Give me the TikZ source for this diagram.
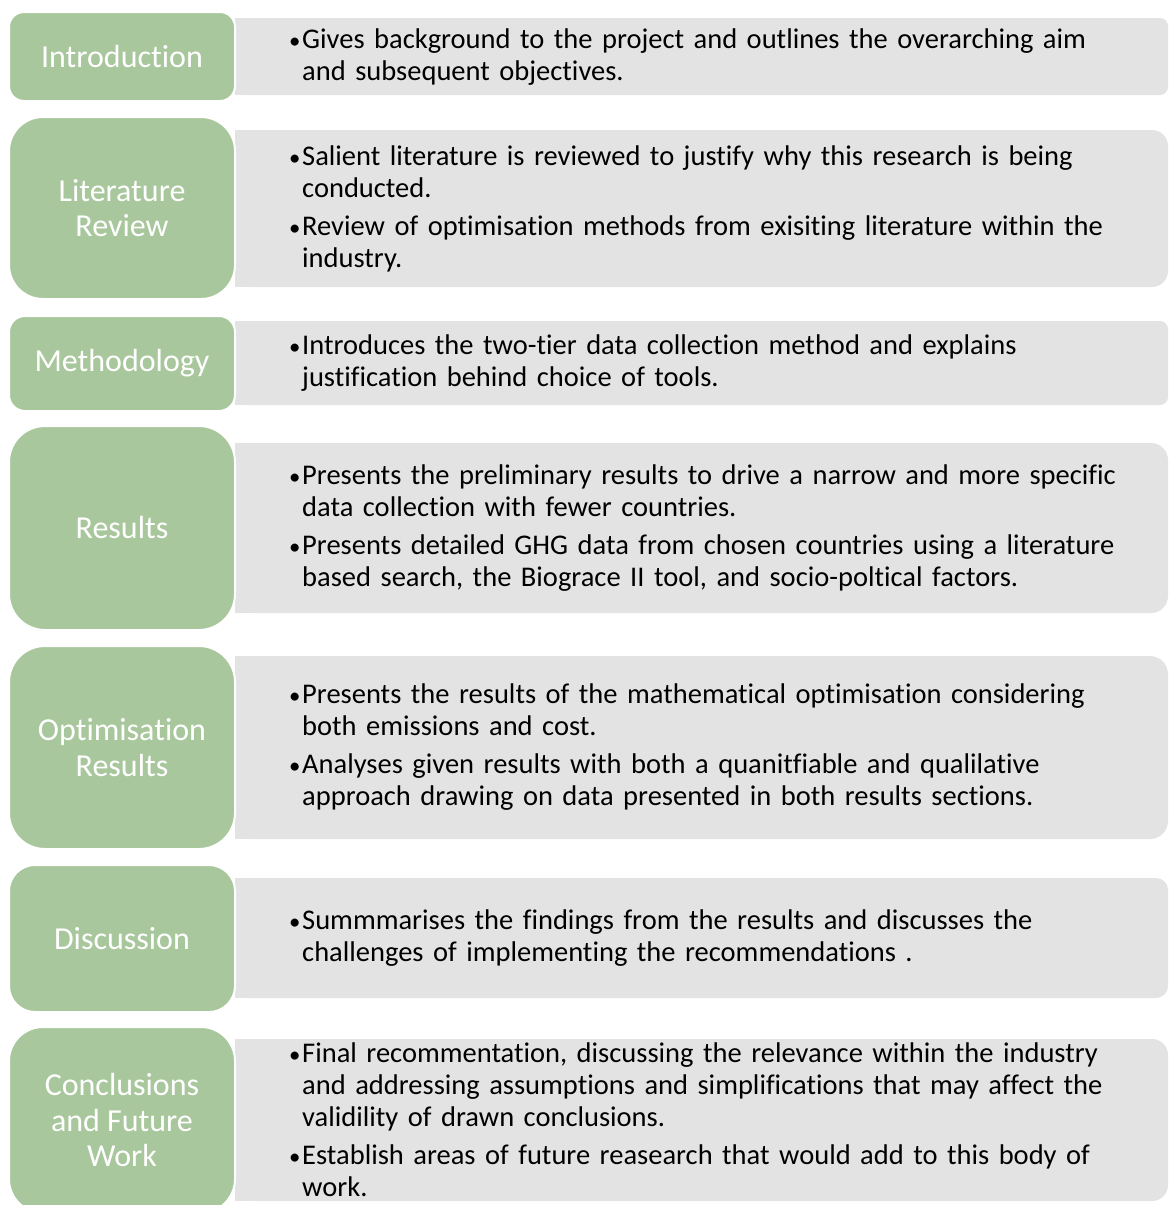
\documentclass[tikz,border=0pt]{standalone}
\usepackage{fontspec}
\setmainfont{Carlito}[Ligatures=NoCommon]
\usepackage{tikz}

\definecolor{stagegreen}{RGB}{169,199,156}
\definecolor{barfill}{RGB}{227,227,227}

% bullet with hanging indent
\newcommand{\bul}{\makebox[14pt][l]{\hspace*{1pt}\scalebox{0.8}{•}}}
\newcommand{\hang}{\hspace*{14pt}}

\tikzset{
  stage/.style={draw=white, line width=2pt, fill=stagegreen, rounded corners=#1,
    minimum width=226pt, inner sep=0pt, text=white, align=center,
    font=\fontsize{32}{35.5}\selectfont},
  stage/.default=20pt,
  bar/.style={fill=barfill, rounded corners=#1, minimum width=933pt, inner sep=0pt},
  bar/.default=10pt,
  notes/.style={anchor=west, align=left, inner sep=0pt, text width=870pt,
    font=\fontsize{28.5}{32}\selectfont}
}

\begin{document}
\begin{tikzpicture}[x=1pt, y=-1pt]
    \clip (0,0) rectangle (1169,1205);
    \useasboundingbox (0,0) rectangle (1169,1205);

    % Introduction
    \node[bar=8pt, minimum height=77pt] (introbar) at (701.5,56.5) {};
    \fill[barfill] (introbar.north west) rectangle (introbar.south);
    \node[stage=15pt, minimum height=89pt] (intro) at (122,56.5) {Introduction};
    \node[notes] (introtext) at (288,57) {\bul Gives background to the project and outlines the overarching aim\\
      \hang and subsequent objectives.};

    % Literature review
    \node[bar=16pt, minimum height=157pt] (litbar) at (701.5,208.5) {};
    \fill[barfill] (litbar.north west) rectangle (litbar.south);
    \node[stage=34pt, minimum height=182pt] (lit) at (122,208) {Literature\\Review};
    \node[notes] (littext) at (288,208.5) {\bul Salient literature is reviewed to justify why this research is being\\
      \hang conducted.\\[6pt]
      \bul Review of optimisation methods from exisiting literature within the\\
      \hang industry.};

    % Methodology
    \node[bar=8pt, minimum height=84pt] (methbar) at (701.5,363) {};
    \fill[barfill] (methbar.north west) rectangle (methbar.south);
    \node[stage=16pt, minimum height=95pt] (meth) at (122,363.5) {Methodology};
    \node[notes] (methtext) at (288,363.5) {\bul Introduces the two-tier data collection method and explains\\
      \hang justification behind choice of tools.};

    % Results
    \node[bar=17pt, minimum height=170pt] (resbar) at (701.5,528) {};
    \fill[barfill] (resbar.north west) rectangle (resbar.south);
    \node[stage=36pt, minimum height=204pt] (res) at (122,528) {Results};
    \node[notes] (restext) at (288,528) {\bul Presents the preliminary results to drive a narrow and more specific\\
      \hang data collection with fewer countries.\\[6pt]
      \bul Presents detailed GHG data from chosen countries using a literature\\
      \hang based search, the Biograce II tool, and socio-poltical factors.};

    % Optimisation results
    \node[bar=18pt, minimum height=183pt] (optbar) at (701.5,747.5) {};
    \fill[barfill] (optbar.north west) rectangle (optbar.south);
    \node[stage=36pt, minimum height=203pt] (opt) at (122,747.5) {Optimisation\\Results};
    \node[notes] (opttext) at (288,747.5) {\bul Presents the results of the mathematical optimisation considering\\
      \hang both emissions and cost.\\[6pt]
      \bul Analyses given results with both a quanitfiable and qualilative\\
      \hang approach drawing on data presented in both results sections.};

    % Discussion
    \node[bar=12pt, minimum height=120pt] (discbar) at (701.5,938) {};
    \fill[barfill] (discbar.north west) rectangle (discbar.south);
    \node[stage=26pt, minimum height=147pt] (disc) at (122,938.5) {Discussion};
    \node[notes] (disctext) at (288,938.5) {\bul Summmarises the findings from the results and discusses the\\
      \hang challenges of implementing the recommendations .};

    % Conclusions and future work
    \node[bar=16pt, minimum height=162pt] (concbar) at (701.5,1120) {};
    \fill[barfill] (concbar.north west) rectangle (concbar.south);
    \node[stage=34pt, minimum height=186pt] (conc) at (122,1120) {Conclusions\\and Future\\Work};
    \node[notes] (conctext) at (288,1120) {\bul Final recommentation, discussing the relevance within the industry\\
      \hang and addressing assumptions and simplifications that may affect the\\
      \hang validility of drawn conclusions.\\[6pt]
      \bul Establish areas of future reasearch that would add to this body of\\
      \hang work.};
\end{tikzpicture}
\end{document}
